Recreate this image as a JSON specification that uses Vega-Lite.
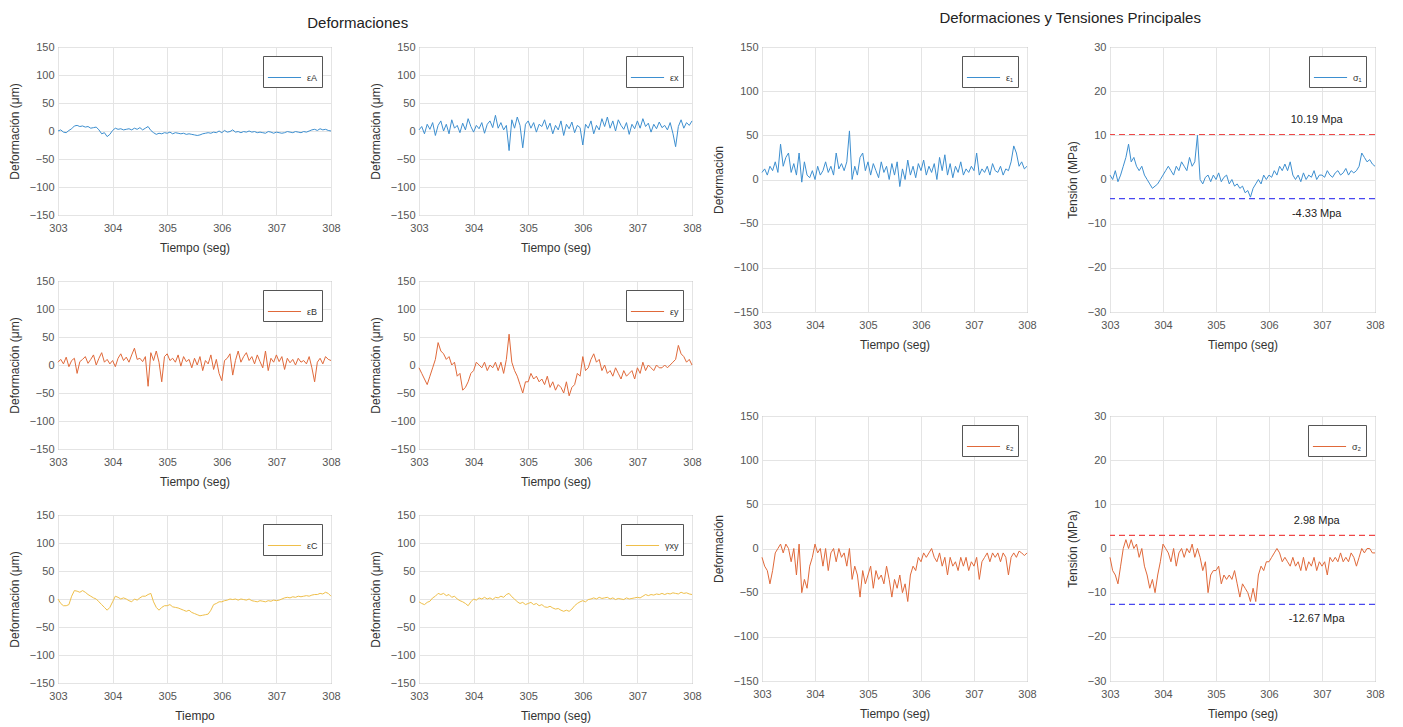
{
"$schema": "https://vega.github.io/schema/vega-lite/v6.json",
"background": "white",
"padding": {"left": 7, "top": 10, "right": 5, "bottom": 5},
"config": {
 "font": "Liberation Sans",
 "view": {"stroke": "#8a8a8a", "strokeWidth": 1},
 "axis": {"domain": false, "grid": true, "gridColor": "#e4e4e4", "ticks": false, "labelFont": "Liberation Sans", "labelFontSize": 11, "labelColor": "#555555", "labelOverlap": false, "titleFont": "Liberation Sans", "titleFontSize": 12, "titleFontWeight": "normal", "titleColor": "#333333"},
 "axisX": {"labelPadding": 7, "titlePadding": 9, "labelFlush": false},
 "axisY": {"labelPadding": 4, "titlePadding": 8},
 "legend": {"orient": "top-right", "offset": 9, "padding": 4, "strokeColor": "#555555", "fillColor": "#ffffff", "symbolType": "stroke", "symbolSize": 1100, "symbolStrokeWidth": 1.2, "labelFont": "Liberation Sans", "labelFontSize": 9, "labelColor": "#333333", "labelOffset": 5, "cornerRadius": 0},
 "title": {"font": "Liberation Sans", "fontSize": 15, "fontWeight": "normal", "color": "#222222"},
 "line": {"strokeWidth": 1}
},
"datasets": {
 "ann": [
  {"panel": "s1", "kind": "max", "v": 10.19, "label": "10.19 Mpa"},
  {"panel": "s1", "kind": "min", "v": -4.33, "label": "-4.33 Mpa"},
  {"panel": "s2", "kind": "max", "v": 2.98, "label": "2.98 Mpa"},
  {"panel": "s2", "kind": "min", "v": -12.67, "label": "-12.67 Mpa"}
 ],
 "d": [
{"t":303,"eA":0,"ex":2,"eB":5,"ey":-5,"eC":0,"gxy":-5,"e1":8,"s1":1,"e2":-10,"s2":-2},
{"t":303.05,"eA":2,"ex":8,"eB":10,"ey":-15,"eC":-8,"gxy":-8,"e1":12,"s1":0,"e2":-20,"s2":-5},
{"t":303.1,"eA":-2,"ex":-5,"eB":2,"ey":-25,"eC":-12,"gxy":-10,"e1":5,"s1":2,"e2":-25,"s2":-6},
{"t":303.15,"eA":-3,"ex":12,"eB":14,"ey":-35,"eC":-12,"gxy":-6,"e1":15,"s1":-0.5,"e2":-40,"s2":-8},
{"t":303.2,"eA":1,"ex":3,"eB":-3,"ey":-20,"eC":-10,"gxy":-4,"e1":10,"s1":1,"e2":-25,"s2":-4},
{"t":303.25,"eA":4,"ex":15,"eB":8,"ey":-5,"eC":5,"gxy":2,"e1":20,"s1":3,"e2":-5,"s2":0},
{"t":303.3,"eA":9,"ex":-8,"eB":12,"ey":10,"eC":15,"gxy":5,"e1":8,"s1":5,"e2":0,"s2":2},
{"t":303.35,"eA":10,"ex":10,"eB":-15,"ey":40,"eC":14,"gxy":10,"e1":40,"s1":8,"e2":5,"s2":0},
{"t":303.4,"eA":8,"ex":18,"eB":6,"ey":25,"eC":12,"gxy":8,"e1":15,"s1":4,"e2":-5,"s2":2},
{"t":303.45,"eA":9,"ex":0,"eB":10,"ey":20,"eC":15,"gxy":10,"e1":25,"s1":5,"e2":5,"s2":0},
{"t":303.5,"eA":7,"ex":12,"eB":15,"ey":10,"eC":12,"gxy":6,"e1":30,"s1":3,"e2":0,"s2":1},
{"t":303.55,"eA":8,"ex":-5,"eB":3,"ey":15,"eC":8,"gxy":8,"e1":8,"s1":2,"e2":-15,"s2":-2},
{"t":303.6,"eA":5,"ex":20,"eB":10,"ey":0,"eC":5,"gxy":3,"e1":18,"s1":3,"e2":0,"s2":0},
{"t":303.65,"eA":6,"ex":5,"eB":18,"ey":5,"eC":2,"gxy":5,"e1":5,"s1":1,"e2":-30,"s2":-4},
{"t":303.7,"eA":7,"ex":10,"eB":0,"ey":-20,"eC":0,"gxy":0,"e1":30,"s1":0,"e2":5,"s2":-6},
{"t":303.75,"eA":2,"ex":-3,"eB":12,"ey":-15,"eC":-5,"gxy":-3,"e1":-3,"s1":-1,"e2":-50,"s2":-9},
{"t":303.8,"eA":-5,"ex":14,"eB":22,"ey":-45,"eC":-10,"gxy":-5,"e1":20,"s1":-2,"e2":-35,"s2":-7},
{"t":303.85,"eA":-3,"ex":2,"eB":5,"ey":-40,"eC":-15,"gxy":-8,"e1":5,"s1":-1.5,"e2":-45,"s2":-10},
{"t":303.9,"eA":-10,"ex":22,"eB":10,"ey":-30,"eC":-20,"gxy":-12,"e1":2,"s1":-1,"e2":-20,"s2":-6},
{"t":303.95,"eA":-6,"ex":8,"eB":2,"ey":-15,"eC":-15,"gxy":-5,"e1":10,"s1":0,"e2":-10,"s2":-3},
{"t":304,"eA":1,"ex":-2,"eB":8,"ey":-10,"eC":-5,"gxy":0,"e1":0,"s1":1,"e2":5,"s2":1},
{"t":304.05,"eA":5,"ex":10,"eB":-3,"ey":5,"eC":5,"gxy":-2,"e1":15,"s1":2,"e2":-5,"s2":0},
{"t":304.1,"eA":3,"ex":4,"eB":12,"ey":0,"eC":3,"gxy":2,"e1":5,"s1":3,"e2":0,"s2":-1},
{"t":304.15,"eA":4,"ex":15,"eB":20,"ey":-5,"eC":0,"gxy":0,"e1":10,"s1":2,"e2":-20,"s2":-3},
{"t":304.2,"eA":2,"ex":-4,"eB":8,"ey":5,"eC":2,"gxy":3,"e1":20,"s1":1,"e2":0,"s2":0},
{"t":304.25,"eA":3,"ex":12,"eB":14,"ey":-10,"eC":0,"gxy":0,"e1":8,"s1":3,"e2":-25,"s2":-4},
{"t":304.3,"eA":4,"ex":18,"eB":5,"ey":0,"eC":-3,"gxy":2,"e1":15,"s1":2,"e2":-5,"s2":-1},
{"t":304.35,"eA":2,"ex":6,"eB":18,"ey":-5,"eC":-5,"gxy":-1,"e1":5,"s1":4,"e2":0,"s2":0},
{"t":304.4,"eA":5,"ex":28,"eB":30,"ey":5,"eC":0,"gxy":3,"e1":30,"s1":3,"e2":-15,"s2":-2},
{"t":304.45,"eA":3,"ex":5,"eB":10,"ey":-10,"eC":-2,"gxy":2,"e1":12,"s1":2,"e2":0,"s2":0},
{"t":304.5,"eA":6,"ex":15,"eB":12,"ey":5,"eC":2,"gxy":5,"e1":18,"s1":5,"e2":-10,"s2":-1},
{"t":304.55,"eA":2,"ex":2,"eB":6,"ey":-15,"eC":5,"gxy":3,"e1":10,"s1":3,"e2":-5,"s2":1},
{"t":304.6,"eA":5,"ex":10,"eB":15,"ey":10,"eC":5,"gxy":8,"e1":20,"s1":4,"e2":-20,"s2":-2},
{"t":304.65,"eA":8,"ex":-35,"eB":-38,"ey":55,"eC":8,"gxy":10,"e1":55,"s1":10,"e2":0,"s2":0},
{"t":304.7,"eA":1,"ex":20,"eB":22,"ey":5,"eC":10,"gxy":4,"e1":0,"s1":0,"e2":-35,"s2":-2},
{"t":304.75,"eA":-3,"ex":5,"eB":8,"ey":-10,"eC":-5,"gxy":0,"e1":15,"s1":-1,"e2":-20,"s2":-5},
{"t":304.8,"eA":-6,"ex":25,"eB":25,"ey":-20,"eC":-15,"gxy":-5,"e1":5,"s1":0.5,"e2":-30,"s2":-3},
{"t":304.85,"eA":-4,"ex":10,"eB":5,"ey":-35,"eC":-20,"gxy":-8,"e1":25,"s1":1,"e2":-55,"s2":-10},
{"t":304.9,"eA":-5,"ex":-30,"eB":-30,"ey":-50,"eC":-15,"gxy":-6,"e1":30,"s1":-0.5,"e2":-25,"s2":-6},
{"t":304.95,"eA":-3,"ex":12,"eB":15,"ey":-30,"eC":-12,"gxy":-10,"e1":10,"s1":1,"e2":-40,"s2":-5},
{"t":305,"eA":-4,"ex":18,"eB":20,"ey":-30,"eC":-12,"gxy":-8,"e1":20,"s1":0,"e2":-30,"s2":-5},
{"t":305.05,"eA":-2,"ex":5,"eB":8,"ey":-15,"eC":-10,"gxy":-6,"e1":5,"s1":1.5,"e2":-20,"s2":-4},
{"t":305.1,"eA":-5,"ex":15,"eB":12,"ey":-25,"eC":-14,"gxy":-10,"e1":18,"s1":-0.5,"e2":-45,"s2":-8},
{"t":305.15,"eA":-3,"ex":-2,"eB":5,"ey":-20,"eC":-15,"gxy":-8,"e1":10,"s1":0.5,"e2":-25,"s2":-6},
{"t":305.2,"eA":-4,"ex":12,"eB":18,"ey":-30,"eC":-16,"gxy":-12,"e1":2,"s1":1,"e2":-35,"s2":-7},
{"t":305.25,"eA":-5,"ex":8,"eB":-2,"ey":-25,"eC":-18,"gxy":-10,"e1":20,"s1":-1,"e2":-30,"s2":-6},
{"t":305.3,"eA":-4,"ex":20,"eB":15,"ey":-35,"eC":-20,"gxy":-14,"e1":8,"s1":0,"e2":-40,"s2":-7},
{"t":305.35,"eA":-6,"ex":3,"eB":6,"ey":-20,"eC":-22,"gxy":-15,"e1":15,"s1":-1.5,"e2":-20,"s2":-5},
{"t":305.4,"eA":-5,"ex":14,"eB":10,"ey":-40,"eC":-20,"gxy":-13,"e1":0,"s1":-1,"e2":-35,"s2":-8},
{"t":305.45,"eA":-6,"ex":-5,"eB":-5,"ey":-30,"eC":-24,"gxy":-16,"e1":18,"s1":-2,"e2":-55,"s2":-11},
{"t":305.5,"eA":-7,"ex":10,"eB":12,"ey":-45,"eC":-26,"gxy":-18,"e1":5,"s1":-1.5,"e2":-35,"s2":-8},
{"t":305.55,"eA":-8,"ex":2,"eB":0,"ey":-35,"eC":-28,"gxy":-17,"e1":20,"s1":-3,"e2":-45,"s2":-9},
{"t":305.6,"eA":-7,"ex":18,"eB":15,"ey":-40,"eC":-30,"gxy":-20,"e1":-8,"s1":-2.5,"e2":-30,"s2":-10},
{"t":305.65,"eA":-5,"ex":-8,"eB":-10,"ey":-50,"eC":-29,"gxy":-22,"e1":12,"s1":-4,"e2":-50,"s2":-12},
{"t":305.7,"eA":-4,"ex":12,"eB":8,"ey":-30,"eC":-28,"gxy":-20,"e1":0,"s1":-2,"e2":-40,"s2":-9},
{"t":305.75,"eA":-3,"ex":4,"eB":2,"ey":-55,"eC":-27,"gxy":-22,"e1":22,"s1":-1,"e2":-60,"s2":-12},
{"t":305.8,"eA":-4,"ex":16,"eB":18,"ey":-40,"eC":-20,"gxy":-18,"e1":5,"s1":0,"e2":-30,"s2":-6},
{"t":305.85,"eA":-2,"ex":-3,"eB":-8,"ey":-35,"eC":-10,"gxy":-12,"e1":15,"s1":-1,"e2":-20,"s2":-4},
{"t":305.9,"eA":-3,"ex":10,"eB":10,"ey":-15,"eC":-8,"gxy":-8,"e1":2,"s1":1,"e2":-25,"s2":-5},
{"t":305.95,"eA":0,"ex":6,"eB":-15,"ey":-20,"eC":-5,"gxy":-5,"e1":18,"s1":0,"e2":-10,"s2":-3},
{"t":306,"eA":-3,"ex":-25,"eB":-28,"ey":15,"eC":-5,"gxy":-3,"e1":10,"s1":1,"e2":-15,"s2":-3},
{"t":306.05,"eA":1,"ex":12,"eB":8,"ey":-10,"eC":-3,"gxy":-5,"e1":22,"s1":0.5,"e2":-5,"s2":-2},
{"t":306.1,"eA":-2,"ex":5,"eB":12,"ey":-5,"eC":-2,"gxy":-1,"e1":5,"s1":2,"e2":-10,"s2":-1},
{"t":306.15,"eA":-1,"ex":18,"eB":20,"ey":10,"eC":0,"gxy":0,"e1":15,"s1":1,"e2":-5,"s2":0},
{"t":306.2,"eA":2,"ex":-5,"eB":-18,"ey":20,"eC":-1,"gxy":2,"e1":8,"s1":3,"e2":0,"s2":-1},
{"t":306.25,"eA":-2,"ex":10,"eB":8,"ey":5,"eC":0,"gxy":0,"e1":18,"s1":2,"e2":-10,"s2":-3},
{"t":306.3,"eA":-1,"ex":2,"eB":25,"ey":10,"eC":-2,"gxy":3,"e1":0,"s1":3.5,"e2":-15,"s2":-2},
{"t":306.35,"eA":-3,"ex":22,"eB":5,"ey":-10,"eC":0,"gxy":1,"e1":25,"s1":2,"e2":-5,"s2":-3},
{"t":306.4,"eA":-1,"ex":8,"eB":15,"ey":0,"eC":-1,"gxy":2,"e1":10,"s1":4,"e2":-20,"s2":-4},
{"t":306.45,"eA":-2,"ex":25,"eB":22,"ey":-15,"eC":-2,"gxy":3,"e1":28,"s1":1,"e2":-10,"s2":-2},
{"t":306.5,"eA":0,"ex":5,"eB":8,"ey":-10,"eC":0,"gxy":0,"e1":5,"s1":0,"e2":-30,"s2":-4},
{"t":306.55,"eA":-2,"ex":18,"eB":15,"ey":-20,"eC":-3,"gxy":2,"e1":18,"s1":1,"e2":-10,"s2":-3},
{"t":306.6,"eA":-1,"ex":0,"eB":2,"ey":-5,"eC":-4,"gxy":-1,"e1":2,"s1":-0.5,"e2":-20,"s2":-5},
{"t":306.65,"eA":-3,"ex":20,"eB":18,"ey":-15,"eC":-5,"gxy":1,"e1":15,"s1":1.5,"e2":-15,"s2":-2},
{"t":306.7,"eA":-2,"ex":10,"eB":6,"ey":-25,"eC":-3,"gxy":0,"e1":8,"s1":0,"e2":-25,"s2":-5},
{"t":306.75,"eA":-3,"ex":3,"eB":-5,"ey":-10,"eC":-4,"gxy":-1,"e1":20,"s1":1,"e2":-10,"s2":-3},
{"t":306.8,"eA":-4,"ex":15,"eB":25,"ey":-20,"eC":-5,"gxy":2,"e1":5,"s1":0.5,"e2":-20,"s2":-4},
{"t":306.85,"eA":-1,"ex":-6,"eB":-10,"ey":-15,"eC":-3,"gxy":0,"e1":12,"s1":2,"e2":-10,"s2":-2},
{"t":306.9,"eA":-2,"ex":12,"eB":12,"ey":-10,"eC":-4,"gxy":1,"e1":8,"s1":0,"e2":-25,"s2":-5},
{"t":306.95,"eA":-4,"ex":4,"eB":5,"ey":-25,"eC":-2,"gxy":2,"e1":15,"s1":1,"e2":-15,"s2":-3},
{"t":307,"eA":-2,"ex":18,"eB":18,"ey":-5,"eC":-3,"gxy":3,"e1":10,"s1":1,"e2":-20,"s2":-4},
{"t":307.05,"eA":-3,"ex":5,"eB":6,"ey":-15,"eC":-2,"gxy":2,"e1":30,"s1":0.5,"e2":-10,"s2":-3},
{"t":307.1,"eA":-4,"ex":22,"eB":15,"ey":5,"eC":0,"gxy":5,"e1":5,"s1":2,"e2":-35,"s2":-6},
{"t":307.15,"eA":-3,"ex":8,"eB":-8,"ey":-10,"eC":2,"gxy":8,"e1":12,"s1":1,"e2":-15,"s2":-2},
{"t":307.2,"eA":-1,"ex":14,"eB":12,"ey":0,"eC":3,"gxy":6,"e1":8,"s1":0.5,"e2":-10,"s2":-3},
{"t":307.25,"eA":-2,"ex":-2,"eB":4,"ey":-5,"eC":2,"gxy":8,"e1":15,"s1":1.5,"e2":-5,"s2":-2},
{"t":307.3,"eA":-3,"ex":12,"eB":10,"ey":-10,"eC":4,"gxy":7,"e1":5,"s1":2,"e2":-15,"s2":-3},
{"t":307.35,"eA":-1,"ex":4,"eB":0,"ey":0,"eC":3,"gxy":9,"e1":18,"s1":1,"e2":-5,"s2":-1},
{"t":307.4,"eA":-2,"ex":16,"eB":12,"ey":-5,"eC":5,"gxy":8,"e1":10,"s1":1.5,"e2":-10,"s2":-3},
{"t":307.45,"eA":-3,"ex":6,"eB":5,"ey":-5,"eC":4,"gxy":10,"e1":8,"s1":2.5,"e2":-5,"s2":-2},
{"t":307.5,"eA":-1,"ex":10,"eB":8,"ey":0,"eC":5,"gxy":8,"e1":15,"s1":1,"e2":-15,"s2":-3},
{"t":307.55,"eA":-2,"ex":2,"eB":2,"ey":-5,"eC":6,"gxy":10,"e1":5,"s1":2,"e2":-5,"s2":-1},
{"t":307.6,"eA":0,"ex":15,"eB":15,"ey":0,"eC":5,"gxy":9,"e1":12,"s1":1.5,"e2":-10,"s2":-2},
{"t":307.65,"eA":2,"ex":-4,"eB":-5,"ey":5,"eC":7,"gxy":11,"e1":10,"s1":2,"e2":-30,"s2":-4},
{"t":307.7,"eA":3,"ex":-28,"eB":-30,"ey":10,"eC":8,"gxy":10,"e1":20,"s1":3,"e2":-10,"s2":-2},
{"t":307.75,"eA":1,"ex":8,"eB":5,"ey":35,"eC":8,"gxy":9,"e1":38,"s1":6,"e2":-5,"s2":0},
{"t":307.8,"eA":4,"ex":20,"eB":12,"ey":20,"eC":10,"gxy":12,"e1":30,"s1":5,"e2":-10,"s2":-1},
{"t":307.85,"eA":2,"ex":5,"eB":2,"ey":15,"eC":9,"gxy":10,"e1":15,"s1":4,"e2":-3,"s2":0},
{"t":307.9,"eA":3,"ex":15,"eB":15,"ey":5,"eC":12,"gxy":11,"e1":20,"s1":4.5,"e2":-5,"s2":0},
{"t":307.95,"eA":1,"ex":10,"eB":10,"ey":10,"eC":10,"gxy":9,"e1":12,"s1":3.5,"e2":-8,"s2":-1},
{"t":308,"eA":0,"ex":18,"eB":8,"ey":0,"eC":5,"gxy":8,"e1":15,"s1":3,"e2":-5,"s2":-1}
 ]
},
"spacing": 9,
"resolve": {"scale": {"color": "independent"}, "legend": {"color": "independent"}},
"hconcat": [
 {
  "title": {"text": "Deformaciones", "anchor": "middle", "dx": 3, "offset": 10},
  "columns": 2,
  "spacing": {"row": 66, "column": 88},
  "bounds": "flush",
  "resolve": {"scale": {"color": "independent"}, "legend": {"color": "independent"}},
  "concat": [
   {"width": 273, "height": 168, "data": {"name": "d"}, "mark": {"type": "line", "strokeWidth": 1},
    "encoding": {
     "x": {"field": "t", "type": "quantitative", "scale": {"domain": [303, 308], "nice": false, "zero": false}, "axis": {"values": [303, 304, 305, 306, 307, 308], "title": "Tiempo (seg)"}},
     "y": {"field": "eA", "type": "quantitative", "scale": {"domain": [-150, 150], "nice": false}, "axis": {"values": [-150, -100, -50, 0, 50, 100, 150], "title": "Deformación (μm)"}},
     "color": {"datum": "εA", "type": "nominal", "scale": {"range": ["#3d8fd0"]}, "legend": {"title": null}}}},
   {"width": 273, "height": 168, "data": {"name": "d"}, "mark": {"type": "line", "strokeWidth": 1},
    "encoding": {
     "x": {"field": "t", "type": "quantitative", "scale": {"domain": [303, 308], "nice": false, "zero": false}, "axis": {"values": [303, 304, 305, 306, 307, 308], "title": "Tiempo (seg)"}},
     "y": {"field": "ex", "type": "quantitative", "scale": {"domain": [-150, 150], "nice": false}, "axis": {"values": [-150, -100, -50, 0, 50, 100, 150], "title": "Deformación (μm)"}},
     "color": {"datum": "εx", "type": "nominal", "scale": {"range": ["#3d8fd0"]}, "legend": {"title": null}}}},
   {"width": 273, "height": 168, "data": {"name": "d"}, "mark": {"type": "line", "strokeWidth": 1},
    "encoding": {
     "x": {"field": "t", "type": "quantitative", "scale": {"domain": [303, 308], "nice": false, "zero": false}, "axis": {"values": [303, 304, 305, 306, 307, 308], "title": "Tiempo (seg)"}},
     "y": {"field": "eB", "type": "quantitative", "scale": {"domain": [-150, 150], "nice": false}, "axis": {"values": [-150, -100, -50, 0, 50, 100, 150], "title": "Deformación (μm)"}},
     "color": {"datum": "εB", "type": "nominal", "scale": {"range": ["#e0693a"]}, "legend": {"title": null}}}},
   {"width": 273, "height": 168, "data": {"name": "d"}, "mark": {"type": "line", "strokeWidth": 1},
    "encoding": {
     "x": {"field": "t", "type": "quantitative", "scale": {"domain": [303, 308], "nice": false, "zero": false}, "axis": {"values": [303, 304, 305, 306, 307, 308], "title": "Tiempo (seg)"}},
     "y": {"field": "ey", "type": "quantitative", "scale": {"domain": [-150, 150], "nice": false}, "axis": {"values": [-150, -100, -50, 0, 50, 100, 150], "title": "Deformación (μm)"}},
     "color": {"datum": "εy", "type": "nominal", "scale": {"range": ["#e0693a"]}, "legend": {"title": null}}}},
   {"width": 273, "height": 168, "data": {"name": "d"}, "mark": {"type": "line", "strokeWidth": 1},
    "encoding": {
     "x": {"field": "t", "type": "quantitative", "scale": {"domain": [303, 308], "nice": false, "zero": false}, "axis": {"values": [303, 304, 305, 306, 307, 308], "title": "Tiempo"}},
     "y": {"field": "eC", "type": "quantitative", "scale": {"domain": [-150, 150], "nice": false}, "axis": {"values": [-150, -100, -50, 0, 50, 100, 150], "title": "Deformación (μm)"}},
     "color": {"datum": "εC", "type": "nominal", "scale": {"range": ["#efbf4a"]}, "legend": {"title": null}}}},
   {"width": 273, "height": 168, "data": {"name": "d"}, "mark": {"type": "line", "strokeWidth": 1},
    "encoding": {
     "x": {"field": "t", "type": "quantitative", "scale": {"domain": [303, 308], "nice": false, "zero": false}, "axis": {"values": [303, 304, 305, 306, 307, 308], "title": "Tiempo (seg)"}},
     "y": {"field": "gxy", "type": "quantitative", "scale": {"domain": [-150, 150], "nice": false}, "axis": {"values": [-150, -100, -50, 0, 50, 100, 150], "title": "Deformación (μm)"}},
     "color": {"datum": "γxy", "type": "nominal", "scale": {"range": ["#efbf4a"]}, "legend": {"title": null}}}}
  ]
 },
 {
  "title": {"text": "Deformaciones y Tensiones Principales", "anchor": "middle", "dx": 22, "offset": 15},
  "columns": 2,
  "spacing": {"row": 104, "column": 83},
  "bounds": "flush",
  "resolve": {"scale": {"color": "independent"}, "legend": {"color": "independent"}},
  "concat": [
   {"width": 265, "height": 265, "data": {"name": "d"}, "mark": {"type": "line", "strokeWidth": 1},
    "encoding": {
     "x": {"field": "t", "type": "quantitative", "scale": {"domain": [303, 308], "nice": false, "zero": false}, "axis": {"values": [303, 304, 305, 306, 307, 308], "title": "Tiempo (seg)"}},
     "y": {"field": "e1", "type": "quantitative", "scale": {"domain": [-150, 150], "nice": false}, "axis": {"values": [-150, -100, -50, 0, 50, 100, 150], "title": "Deformación"}},
     "color": {"datum": "ε₁", "type": "nominal", "scale": {"range": ["#3d8fd0"]}, "legend": {"title": null}}}},
   {"width": 265, "height": 265,
    "layer": [
     {"data": {"name": "d"}, "mark": {"type": "line", "strokeWidth": 1},
      "encoding": {
       "x": {"field": "t", "type": "quantitative", "scale": {"domain": [303, 308], "nice": false, "zero": false}, "axis": {"values": [303, 304, 305, 306, 307, 308], "title": "Tiempo (seg)"}},
       "y": {"field": "s1", "type": "quantitative", "scale": {"domain": [-30, 30], "nice": false}, "axis": {"values": [-30, -20, -10, 0, 10, 20, 30], "title": "Tensión (MPa)"}},
       "color": {"datum": "σ₁", "type": "nominal", "scale": {"range": ["#3d8fd0"]}, "legend": {"title": null}}}},
     {"data": {"name": "ann"}, "transform": [{"filter": "datum.panel == 's1' && datum.kind == 'max'"}],
      "mark": {"type": "rule", "stroke": "#f04848", "strokeDash": [6, 4], "strokeWidth": 1.2},
      "encoding": {"y": {"field": "v", "type": "quantitative", "axis": {"title": "Tensión (MPa)"}}}},
     {"data": {"name": "ann"}, "transform": [{"filter": "datum.panel == 's1' && datum.kind == 'min'"}],
      "mark": {"type": "rule", "stroke": "#4848f0", "strokeDash": [6, 4], "strokeWidth": 1.2},
      "encoding": {"y": {"field": "v", "type": "quantitative", "axis": {"title": "Tensión (MPa)"}}}},
     {"data": {"name": "ann"}, "transform": [{"filter": "datum.panel == 's1' && datum.kind == 'max'"}],
      "mark": {"type": "text", "dy": -14, "fontSize": 11, "color": "#222222", "align": "center"},
      "encoding": {"x": {"datum": 306.9, "type": "quantitative"}, "y": {"field": "v", "type": "quantitative", "axis": {"title": "Tensión (MPa)"}}, "text": {"field": "label"}}},
     {"data": {"name": "ann"}, "transform": [{"filter": "datum.panel == 's1' && datum.kind == 'min'"}],
      "mark": {"type": "text", "dy": 15, "fontSize": 11, "color": "#222222", "align": "center"},
      "encoding": {"x": {"datum": 306.9, "type": "quantitative"}, "y": {"field": "v", "type": "quantitative", "axis": {"title": "Tensión (MPa)"}}, "text": {"field": "label"}}}
    ]},
   {"width": 265, "height": 265, "data": {"name": "d"}, "mark": {"type": "line", "strokeWidth": 1},
    "encoding": {
     "x": {"field": "t", "type": "quantitative", "scale": {"domain": [303, 308], "nice": false, "zero": false}, "axis": {"values": [303, 304, 305, 306, 307, 308], "title": "Tiempo (seg)"}},
     "y": {"field": "e2", "type": "quantitative", "scale": {"domain": [-150, 150], "nice": false}, "axis": {"values": [-150, -100, -50, 0, 50, 100, 150], "title": "Deformación"}},
     "color": {"datum": "ε₂", "type": "nominal", "scale": {"range": ["#e0693a"]}, "legend": {"title": null}}}},
   {"width": 265, "height": 265,
    "layer": [
     {"data": {"name": "d"}, "mark": {"type": "line", "strokeWidth": 1},
      "encoding": {
       "x": {"field": "t", "type": "quantitative", "scale": {"domain": [303, 308], "nice": false, "zero": false}, "axis": {"values": [303, 304, 305, 306, 307, 308], "title": "Tiempo (seg)"}},
       "y": {"field": "s2", "type": "quantitative", "scale": {"domain": [-30, 30], "nice": false}, "axis": {"values": [-30, -20, -10, 0, 10, 20, 30], "title": "Tensión (MPa)"}},
       "color": {"datum": "σ₂", "type": "nominal", "scale": {"range": ["#e0693a"]}, "legend": {"title": null}}}},
     {"data": {"name": "ann"}, "transform": [{"filter": "datum.panel == 's2' && datum.kind == 'max'"}],
      "mark": {"type": "rule", "stroke": "#f04848", "strokeDash": [6, 4], "strokeWidth": 1.2},
      "encoding": {"y": {"field": "v", "type": "quantitative", "axis": {"title": "Tensión (MPa)"}}}},
     {"data": {"name": "ann"}, "transform": [{"filter": "datum.panel == 's2' && datum.kind == 'min'"}],
      "mark": {"type": "rule", "stroke": "#4848f0", "strokeDash": [6, 4], "strokeWidth": 1.2},
      "encoding": {"y": {"field": "v", "type": "quantitative", "axis": {"title": "Tensión (MPa)"}}}},
     {"data": {"name": "ann"}, "transform": [{"filter": "datum.panel == 's2' && datum.kind == 'max'"}],
      "mark": {"type": "text", "dy": -14, "fontSize": 11, "color": "#222222", "align": "center"},
      "encoding": {"x": {"datum": 306.9, "type": "quantitative"}, "y": {"field": "v", "type": "quantitative", "axis": {"title": "Tensión (MPa)"}}, "text": {"field": "label"}}},
     {"data": {"name": "ann"}, "transform": [{"filter": "datum.panel == 's2' && datum.kind == 'min'"}],
      "mark": {"type": "text", "dy": 15, "fontSize": 11, "color": "#222222", "align": "center"},
      "encoding": {"x": {"datum": 306.9, "type": "quantitative"}, "y": {"field": "v", "type": "quantitative", "axis": {"title": "Tensión (MPa)"}}, "text": {"field": "label"}}}
    ]}
  ]
 }
]
}
